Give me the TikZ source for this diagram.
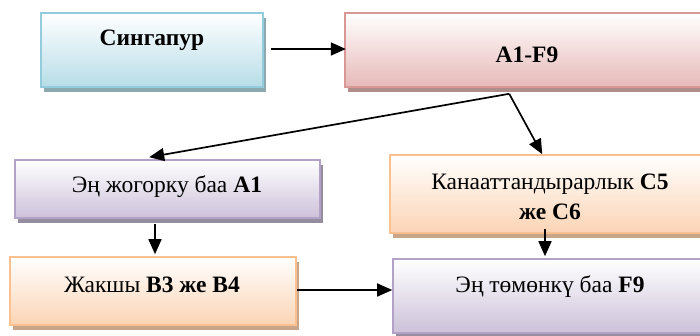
\documentclass[tikz,border=0pt]{standalone}
\usepackage{fontspec}
\setmainfont{Liberation Serif}
\usetikzlibrary{arrows.meta,calc,shadows}
\definecolor{blueFill}{HTML}{B6DDE8}
\definecolor{blueLine}{HTML}{93CDDD}
\definecolor{blueShadow}{HTML}{8DA9B0}
\definecolor{pinkFill}{HTML}{E6B9B8}
\definecolor{pinkLine}{HTML}{D99795}
\definecolor{pinkShadow}{HTML}{B08C8B}
\definecolor{purpFill}{HTML}{CCC1DA}
\definecolor{purpLine}{HTML}{B3A2C7}
\definecolor{purpShadow}{HTML}{958D9E}
\definecolor{orFill}{HTML}{FBD4B4}
\definecolor{orLine}{HTML}{FAC08F}
\definecolor{orShadow}{HTML}{C9A58A}
\tikzset{
  box/.style={rectangle, line width=1.6pt, inner sep=0pt, top color=white},
  bluebox/.style={box, draw=blueLine, bottom color=blueFill,
    drop shadow={shadow xshift=3pt, shadow yshift=-5pt, fill=blueShadow, opacity=1}},
  pinkbox/.style={box, draw=pinkLine, bottom color=pinkFill,
    drop shadow={shadow xshift=3pt, shadow yshift=-5pt, fill=pinkShadow, opacity=1}},
  purpbox/.style={box, draw=purpLine, bottom color=purpFill,
    drop shadow={shadow xshift=3pt, shadow yshift=-5pt, fill=purpShadow, opacity=1}},
  orbox/.style={box, draw=orLine, bottom color=orFill,
    drop shadow={shadow xshift=3pt, shadow yshift=-5pt, fill=orShadow, opacity=1}},
  txt/.style={inner sep=0pt, font=\fontsize{23.5}{30}\selectfont, align=center},
  conn/.style={line width=1.7pt, -{Triangle[length=15pt,width=13pt]}}
}
\begin{document}
\begin{tikzpicture}[x=1pt,y=-1pt]
\clip (0,0) rectangle (700,336);
\fill[white] (0,0) rectangle (700,336);
% boxes
\node[bluebox, minimum width=222pt, minimum height=74pt] (b1) at (152,50) {};
\node[pinkbox, minimum width=364pt, minimum height=74pt] (b2) at (527,50) {};
\node[purpbox, minimum width=305pt, minimum height=58pt] (b3) at (167.5,189) {};
\node[orbox, minimum width=286pt, minimum height=68pt] (b4) at (153,291) {};
\node[orbox, minimum width=320pt, minimum height=78pt] (b5) at (550,194) {};
\node[purpbox, minimum width=314pt, minimum height=74pt] (b6) at (550,296) {};
% texts
\node[txt] (t1) at (152,40) {\textbf{Сингапур}};
\node[txt] (t2) at (527,55) {\textbf{A1-F9}};
\node[txt] (t3) at (167,187) {Эң жогорку баа \textbf{A1}};
\node[txt] (t4) at (152,285) {Жакшы \textbf{B3 же B4}};
\node[txt] (t5) at (550,197) {Канааттандырарлык \textbf{C5}\\ \textbf{же C6}};
\node[txt] (t6) at (550,287) {Эң төмөнкү баа \textbf{F9}};
% connectors
\coordinate (split) at ($(b2.south west)+(165,6)$);
\draw[conn] ($(b1.east)+(7,-1)$) -- ($(b1.east)+(82,-1)$);
\draw[conn] (split) -- ($(b3.north west)+(135,-2)$);
\draw[conn] (split) -- ($(b5.north west)+(153,0)$);
\draw[conn] ($(b3.south)+(-12.5,5)$) -- ($(b4.north)+(2,-2)$);
\draw[conn] ($(b5.south)+(-5,-5)$) -- ($(b6.north)+(-5,-2)$);
\draw[conn] ($(b4.east)+(0,-1)$) -- ($(b6.west)+(0,-6)$);
\end{tikzpicture}
\end{document}
